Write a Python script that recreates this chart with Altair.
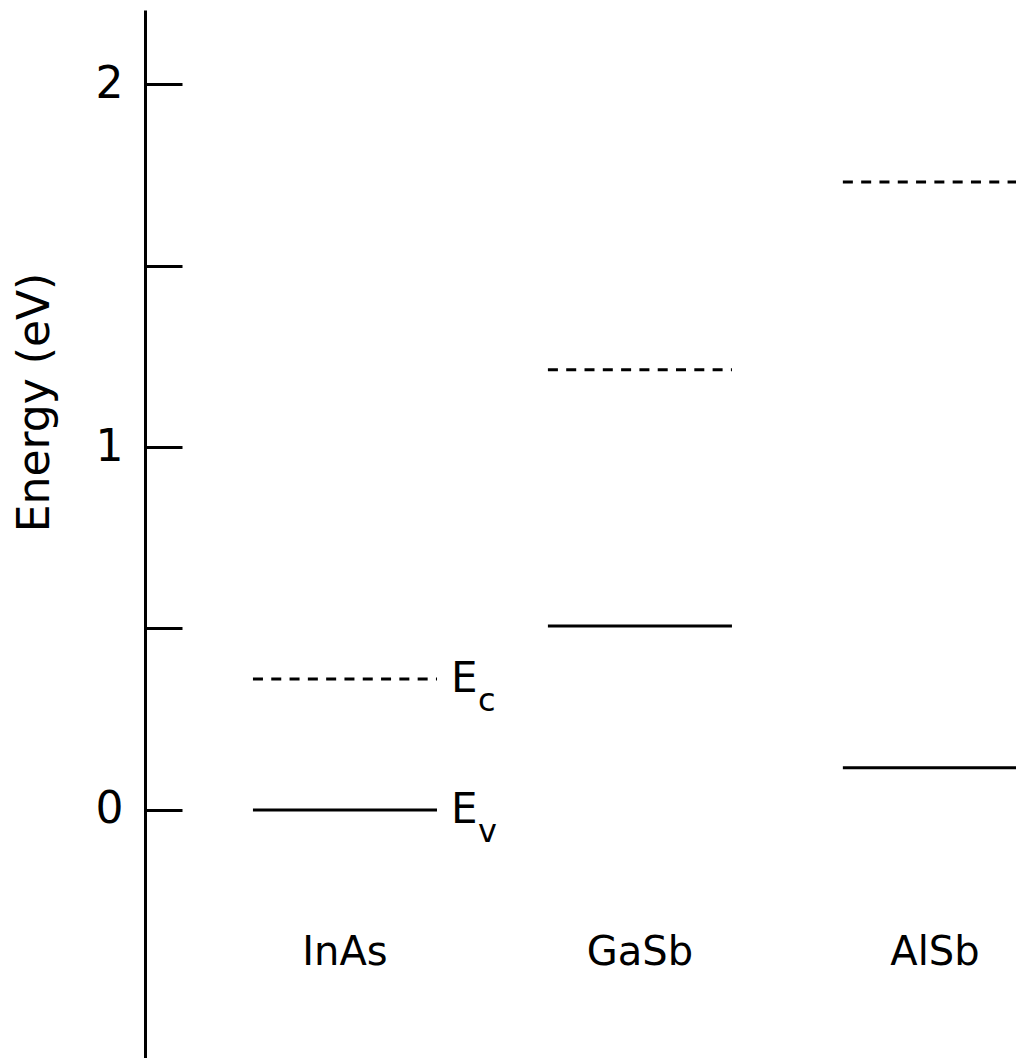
import altair as alt
import pandas as pd

# ---- data ----
materials = ["InAs", "GaSb", "AlSb"]
positions = [1, 2, 3]                 # category slot along the (hidden) x axis
valence = [0.0, 0.507, 0.116]         # E_v (eV), solid lines
conduction = [0.361, 1.213, 1.731]    # E_c (eV), dashed lines
half_width = 0.312                    # half length of each level segment (x units)
label_energy = -0.394                 # where material names sit (eV)
tick_values = [0, 0.5, 1, 1.5, 2]
label_values = [0, 1, 2]

rows = []
for m, p, v, c in zip(materials, positions, valence, conduction):
    rows.append({"material": m, "band": "Ec", "energy": c, "x1": p - half_width, "x2": p + half_width, "pos": p})
    rows.append({"material": m, "band": "Ev", "energy": v, "x1": p - half_width, "x2": p + half_width, "pos": p})
levels = pd.DataFrame(rows)
levels["sub"] = levels["band"].map({"Ec": "c", "Ev": "v"})

names = pd.DataFrame({"material": materials, "pos": positions, "energy": [label_energy] * 3})

FONT = "DejaVu Sans"
xscale = alt.Scale(domain=[0.322, 3.275], nice=False, zero=False)
yscale = alt.Scale(domain=[-0.684, 2.205], nice=False, zero=False)

left_axis = alt.Axis(
    orient="left", values=label_values, ticks=False, tickSize=0, labelPadding=22,
    labelFontSize=44, labelFont=FONT, labelColor="black", labelFlush=False,
    domain=True, domainColor="black", domainWidth=3, grid=False,
    title="Energy  (eV)", titleFont=FONT, titleFontSize=44, titleFontWeight="normal",
    titleColor="black", titleAngle=270, titleX=-110, titleY=392,
    titleAlign="center", titleBaseline="middle", format="d",
)
right_axis = alt.Axis(
    orient="right", offset=-871, values=tick_values, ticks=True, tickSize=37,
    tickWidth=3, tickColor="black", labels=False, domain=False, grid=False, title=None,
)

base = alt.Chart(levels)

lines = base.mark_rule(color="black", strokeWidth=3, clip=True).encode(
    x=alt.X("x1:Q", scale=xscale, axis=None),
    x2="x2:Q",
    y=alt.Y("energy:Q", scale=yscale, axis=left_axis),
    strokeDash=alt.StrokeDash(
        "band:N", scale=alt.Scale(domain=["Ec", "Ev"], range=[[10, 8.3], [1, 0]]), legend=None
    ),
)

ticks = base.mark_point(opacity=0).encode(
    x=alt.X("x1:Q", scale=xscale, axis=None),
    y=alt.Y("energy:Q", scale=yscale, axis=right_axis),
)

inas = base.transform_filter(alt.datum.material == "InAs")
e_letter = inas.mark_text(
    text="E", align="left", baseline="middle", dx=14, fontSize=42, font=FONT, color="black"
).encode(
    x=alt.X("x2:Q", scale=xscale, axis=None),
    y=alt.Y("energy:Q", scale=yscale, axis=None),
)
e_sub = inas.mark_text(
    align="left", baseline="middle", dx=41, dy=22, fontSize=32, font=FONT, color="black"
).encode(
    x=alt.X("x2:Q", scale=xscale, axis=None),
    y=alt.Y("energy:Q", scale=yscale, axis=None),
    text="sub:N",
)

name_text = alt.Chart(names).mark_text(
    align="center", baseline="middle", fontSize=40, font=FONT, color="black"
).encode(
    x=alt.X("pos:Q", scale=xscale, axis=None),
    y=alt.Y("energy:Q", scale=yscale, axis=None),
    text="material:N",
)

chart = (
    alt.layer(lines, ticks, e_letter, e_sub, name_text)
    .resolve_axis(y="independent")
    .properties(
        width=871, height=1048,
        padding={"left": 145, "top": 10, "right": 0, "bottom": 0},
        autosize=alt.AutoSizeParams(type="none"),
        background="white",
    )
    .configure_view(stroke=None)
)

chart.save("out.html", embed_options={"renderer": "svg", "actions": False})
